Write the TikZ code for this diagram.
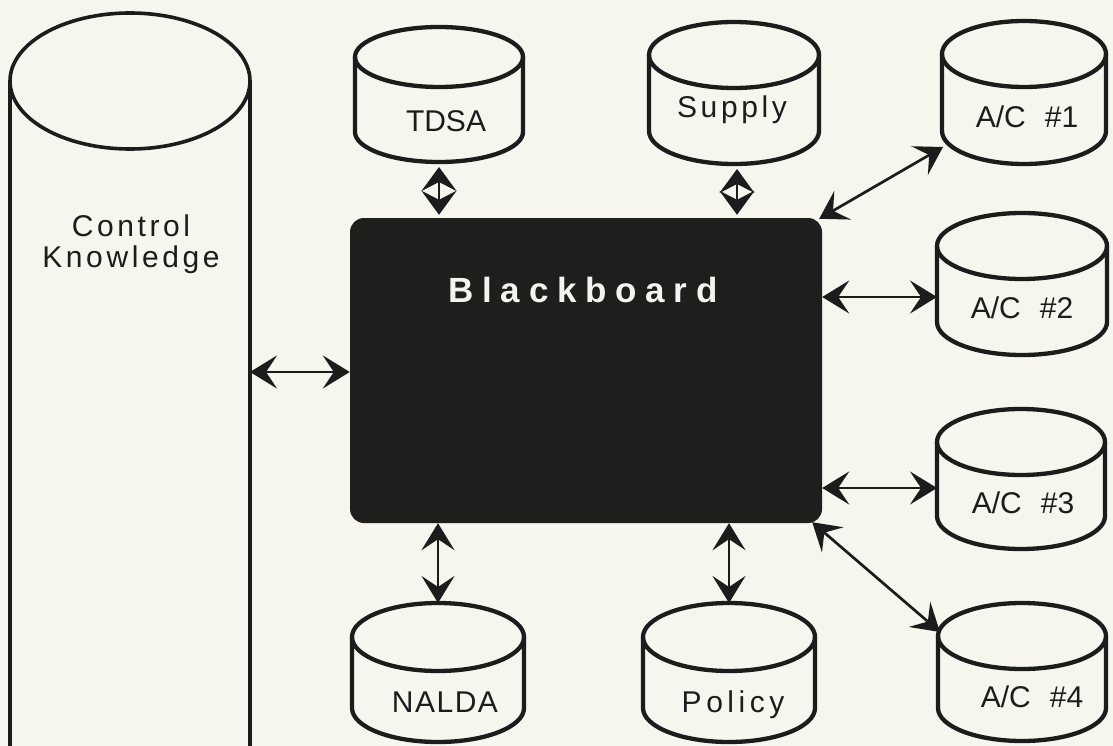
\documentclass[tikz,border=0pt]{standalone}
\usepackage{fontspec}
\setmainfont{Liberation Sans}
\usetikzlibrary{arrows.meta}

\definecolor{paper}{RGB}{246,246,238}
\definecolor{ink}{RGB}{28,28,28}
\definecolor{boardfill}{RGB}{30,30,29}
\definecolor{chalk}{RGB}{244,244,238}

\tikzset{
  cylline/.style={line width=4.3pt, draw=ink, line join=round},
  bigcyl/.style={line width=3.6pt, draw=ink},
  lbl/.style={inner sep=0pt, text=ink, anchor=base, font=\fontsize{30}{30}\selectfont},
  wide/.style={font=\fontsize{30}{31}\selectfont\addfontfeature{LetterSpace=#1}},
  board/.style={fill=boardfill, rounded corners=14pt, inner sep=0pt,
    minimum width=472pt, minimum height=305pt},
  tipA/.tip={Stealth[length=27pt,width=33pt,inset=11pt]},
  tipD/.tip={Stealth[length=24pt,width=35pt,inset=9pt]},
  link/.style={line width=2.7pt, draw=ink, fill=ink, tipA-tipA},
  dlink/.style={line width=2.7pt, draw=ink, fill=ink, tipD-tipD,
    shorten <=5pt, shorten >=3pt},
}

% database drum: name, centre x, top-face y, bottom-face y, x radius, y radius
% (y values are measured downward from the top edge)
\newcommand{\dbdrum}[6]{%
  \draw[cylline] (#2-#5,-#3) -- (#2-#5,-#4)
     arc[start angle=180,end angle=360,x radius=#5,y radius=#6] -- (#2+#5,-#3);
  \draw[cylline] (#2,-#3) ellipse[x radius=#5,y radius=#6];
  \coordinate (#1-n) at (#2,-#3+#6);
  \coordinate (#1-s) at (#2,-#4-#6);
}

\begin{document}
\begin{tikzpicture}[x=1pt,y=1pt]
\useasboundingbox (0,0) rectangle (1113,-746);
\fill[paper] (0,0) rectangle (1113,-746);
\clip (0,0) rectangle (1113,-746);

% control knowledge store (runs off the bottom edge)
\draw[bigcyl] (10,-81) -- (10,-760);
\draw[bigcyl] (250,-81) -- (250,-760);
\draw[bigcyl] (130,-81) ellipse[x radius=120,y radius=68];
\coordinate (ck-e) at (250,-372);
\node[lbl, anchor=center, align=center, wide=12] (ck) at (131,-244) {Control\\Knowledge};

% blackboard
\node[board] (bb) at (586,-370.5) {};
\node[inner sep=0pt, anchor=base, text=chalk,
      font=\fontsize{35}{35}\selectfont\bfseries\addfontfeature{LetterSpace=25}]
      (bbt) at (583,-302) {Blackboard};

% knowledge sources
\dbdrum{tdsa}{439}{57}{132}{84}{30}
\dbdrum{supply}{734}{55}{131}{85}{33}
\dbdrum{ac1}{1024}{54}{131}{82}{33}
\dbdrum{ac2}{1022}{246}{322}{85}{33}
\dbdrum{ac3}{1021}{442}{516}{84}{33}
\dbdrum{ac4}{1022}{636}{708}{84}{33}
\dbdrum{nalda}{438}{637}{708}{86}{34}
\dbdrum{policy}{729}{637}{708}{86}{34}

\node[lbl] (tdsat) at (446,-132) {TDSA};
\node[lbl, wide=12] (supplyt) at (732,-118) {Supply};
\node[lbl] (ac1t) at (1027,-128) {A/C\hspace{19pt}\#1};
\node[lbl] (ac2t) at (1022,-318) {A/C\hspace{19pt}\#2};
\node[lbl] (ac3t) at (1023,-513) {A/C\hspace{19pt}\#3};
\node[lbl] (ac4t) at (1032,-707) {A/C\hspace{19pt}\#4};
\node[lbl, wide=5] (naldat) at (445,-712) {NALDA};
\node[lbl, wide=15] (policyt) at (733,-712) {Policy};

% connector end points on the drums
\coordinate (ac1-in) at (943,-147);
\coordinate (ac2-in) at (937,-297);
\coordinate (ac3-in) at (937,-488);
\coordinate (ac4-in) at (940,-632);
\coordinate (supply-tap) at (737,-164);

% connectors
\draw[link] (ck-e) -- (ck-e -| bb.west);
\draw[dlink] (tdsa-s) -- (tdsa-s |- bb.north);
\draw[dlink] (supply-tap) -- (supply-tap |- bb.north);
\draw[link] (nalda-n |- bb.south) -- (nalda-n);
\draw[link] (policy-n |- bb.south) -- (policy-n);
\draw[link] ([xshift=-3pt,yshift=-1pt]bb.north east) -- (ac1-in);
\draw[link] (ac2-in -| bb.east) -- (ac2-in);
\draw[link] (ac3-in -| bb.east) -- (ac3-in);
\draw[link] ([xshift=-10pt,yshift=1pt]bb.south east) -- (ac4-in);
\end{tikzpicture}
\end{document}
